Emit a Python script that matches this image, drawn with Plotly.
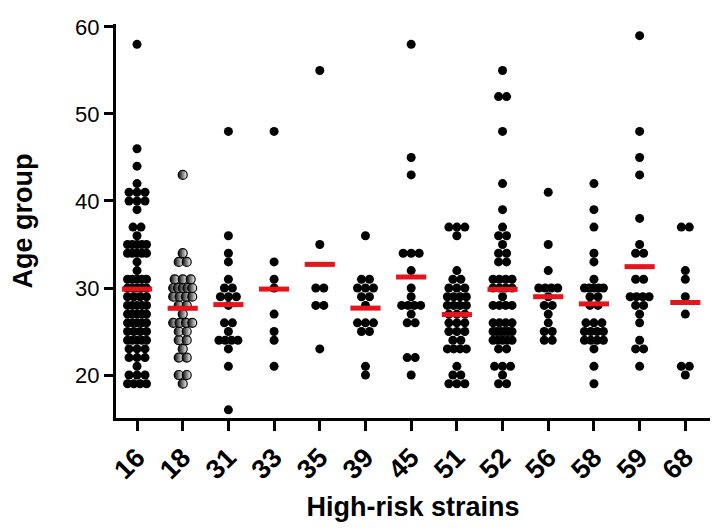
import plotly.graph_objects as go
from collections import Counter

categories = ["16", "18", "31", "33", "35", "39", "45", "51", "52", "56", "58", "59", "68"]

ages_16 = [58, 46, 44, 42] + [41]*3 + [40]*3 + [39] + [37]*2 + [36] + [35]*5 + [34]*5 + [33] + [32] \
    + [31]*5 + [30]*5 + [29]*4 + [28]*5 + [27]*5 + [26]*5 + [25]*4 + [24]*5 + [23]*3 + [22]*3 + [21] + [20]*3 + [19]*4
ages_18 = [43, 34] + [33]*2 + [31]*3 + [30]*5 + [29]*4 + [28]*2 + [27] + [26]*4 + [25]*2 + [24]*2 + [23] + [22]*2 + [20]*2 + [19]
ages_31 = [48, 36, 34, 33, 31] + [30]*2 + [29]*3 + [28] + [26]*2 + [25] + [24]*4 + [23, 21, 16]
ages_33 = [48, 33, 31, 30, 27, 25, 24, 21]
ages_35 = [55, 35, 30, 30, 28, 28, 23]
ages_39 = [36] + [31]*2 + [30]*3 + [29]*2 + [28] + [26]*3 + [25]*2 + [21, 20]
ages_45 = [58, 45, 43] + [34]*3 + [32, 30, 29] + [28]*4 + [27] + [26]*2 + [22]*2 + [20]
ages_51 = [37]*3 + [36, 32] + [31]*2 + [30]*3 + [29]*4 + [28]*4 + [27]*3 + [26]*3 + [25]*3 + [24]*2 + [23]*4 + [21] + [20]*2 + [19]*3
ages_52 = [55, 52, 52, 48, 42, 39, 37, 36, 36, 35, 34, 34, 33, 33] + [31]*4 + [30]*4 + [29] + [28]*4 + [26]*4 \
    + [25]*6 + [24]*5 + [23]*2 + [21]*3 + [20] + [19]*2
ages_56 = [41, 35, 32] + [30]*4 + [29] + [28]*2 + [27, 26] + [25]*2 + [24]*2
ages_58 = [42, 39, 37, 34, 33, 31] + [30]*5 + [29]*2 + [28]*2 + [26]*3 + [25]*4 + [24]*4 + [23, 21, 19]
ages_59 = [59, 48, 45, 43, 38, 35] + [34]*2 + [31]*2 + [29]*4 + [28]*2 + [27, 26, 24] + [23]*2 + [21]
ages_68 = [37, 37, 32, 31, 29, 27, 21, 21, 20]

groups = [ages_16, ages_18, ages_31, ages_33, ages_35, ages_39, ages_45,
          ages_51, ages_52, ages_56, ages_58, ages_59, ages_68]

PX_PER_CAT = 45.7


def swarm(values, center):
    xs, ys = [], []
    cnt = Counter(values)
    for v, n in sorted(cnt.items()):
        step_px = 8.0 if n <= 1 else min(8.0, 19.0 / (n - 1))
        step = step_px / PX_PER_CAT
        for i in range(n):
            xs.append(center + (i - (n - 1) / 2) * step)
            ys.append(v)
    return xs, ys


fig = go.Figure()

for idx, vals in enumerate(groups):
    xs, ys = swarm(vals, idx)
    if categories[idx] == "18":
        fig.add_trace(go.Scatter(
            x=xs, y=ys, mode="markers",
            marker=dict(size=9, color="black",
                        gradient=dict(type="horizontal", color="white"),
                        line=dict(color="black", width=1.2)),
            showlegend=False))
    else:
        fig.add_trace(go.Scatter(
            x=xs, y=ys, mode="markers",
            marker=dict(size=9, color="black"),
            showlegend=False))

# mean lines
mx, my = [], []
for idx, vals in enumerate(groups):
    m = sum(vals) / len(vals)
    mx += [idx - 0.33, idx + 0.33, None]
    my += [m, m, None]
fig.add_trace(go.Scatter(x=mx, y=my, mode="lines",
                         line=dict(color="#e8141c", width=5), showlegend=False))

fig.update_layout(
    width=716, height=520,
    margin=dict(l=108, r=14, t=16, b=110),
    plot_bgcolor="white", paper_bgcolor="white",
    font=dict(family="Liberation Sans", color="black"),
    xaxis=dict(
        range=[-0.46, 12.54], automargin=False,
        tickmode="array", tickvals=list(range(len(categories))), ticktext=categories,
        tickangle=-45,
        tickfont=dict(size=27, family="Liberation Sans", weight="bold"),
        showline=True, linecolor="black", linewidth=3,
        ticks="outside", ticklen=10, tickwidth=3, tickcolor="black",
        showgrid=False, zeroline=False,
        title=dict(text="<b>High-risk strains</b>", font=dict(size=27), standoff=14),
    ),
    yaxis=dict(
        range=[15.06, 60.34], automargin=False,
        tickmode="array", tickvals=[20, 30, 40, 50, 60],
        tickfont=dict(size=22),
        showline=True, linecolor="black", linewidth=3,
        ticks="outside", ticklen=9, tickwidth=3, tickcolor="black",
        showgrid=False, zeroline=False,
        title=dict(text="<b>Age group</b>", font=dict(size=27), standoff=36),
    ),
)

fig.write_html("out.html")
